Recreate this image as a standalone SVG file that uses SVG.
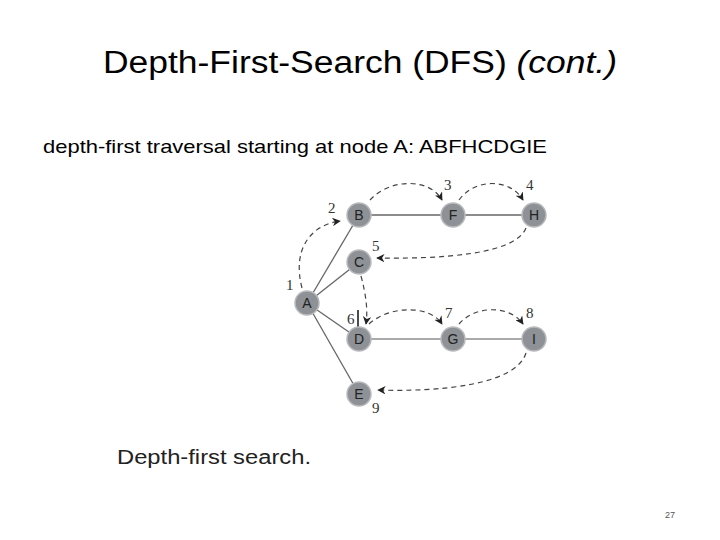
<svg xmlns="http://www.w3.org/2000/svg" width="720" height="540" viewBox="0 0 720 540">
<style>
.n circle{fill:#8e9196;stroke:#b8babd;stroke-width:1.5}
.n text{font-family:"Liberation Sans",sans-serif;font-size:14px;fill:#222;text-anchor:middle}
.num{font-family:"Liberation Serif",serif;font-size:15px;fill:#333}
.e{stroke:#666;stroke-width:1.3;fill:none}
.d{stroke:#444;stroke-width:1.2;fill:none;stroke-dasharray:5,4;marker-end:url(#ar)}
</style>
<defs><marker id="ar" viewBox="0 0 10 10" refX="9" refY="5" markerWidth="7" markerHeight="7" orient="auto"><path d="M0,0L10,5L0,10L3,5z" fill="#222"/></marker></defs>
<rect width="720" height="540" fill="#fff"/>
<text x="103" y="73" font-family="'Liberation Sans',sans-serif" font-size="31" textLength="514" lengthAdjust="spacingAndGlyphs">Depth-First-Search (DFS) <tspan font-style="italic">(cont.)</tspan></text>
<text x="43" y="153" font-family="'Liberation Sans',sans-serif" font-size="19" textLength="504" lengthAdjust="spacingAndGlyphs">depth-first traversal starting at node A:  ABFHCDGIE</text>
<g id="connectors">
<line class="e" x1="307" y1="303" x2="359" y2="215"/>
<line class="e" x1="307" y1="303" x2="359" y2="262"/>
<line class="e" x1="307" y1="303" x2="359" y2="339"/>
<line class="e" x1="307" y1="303" x2="359" y2="394"/>
<line class="e" x1="359" y1="215" x2="534" y2="215" stroke-width="2"/>
<line x1="359" y1="339" x2="534" y2="339" stroke="#aaa" stroke-width="2"/>
<path class="d" d="M302,288 C292,250 310,225 340,221"/>
<path class="d" d="M370,200 C390,178 430,178 442,200"/>
<path class="d" d="M459,200 C475,178 510,178 523,200"/>
<path class="d" d="M526,228 C515,255 440,259 377,258"/>
<path class="d" d="M361,276 C366,295 368,310 366,324"/>
<path class="d" d="M369,324 C390,305 430,305 442,324"/>
<path class="d" d="M459,324 C475,305 510,305 523,324"/>
<path class="d" d="M526,353 C516,385 440,392 378,390"/>
<line x1="358" y1="310" x2="358" y2="328" stroke="#111" stroke-width="1.5"/>
</g>
<g id="A" class="n"><circle cx="307" cy="303" r="12"/><text x="307" y="308">A</text></g>
<g id="B" class="n"><circle cx="359" cy="215" r="12"/><text x="359" y="220">B</text></g>
<g id="F" class="n"><circle cx="453" cy="215" r="12"/><text x="453" y="220">F</text></g>
<g id="H" class="n"><circle cx="534" cy="215" r="12"/><text x="534" y="220">H</text></g>
<g id="C" class="n"><circle cx="359" cy="262" r="12"/><text x="359" y="267">C</text></g>
<g id="D" class="n"><circle cx="359" cy="339" r="12"/><text x="359" y="344">D</text></g>
<g id="G" class="n"><circle cx="453" cy="339" r="12"/><text x="453" y="344">G</text></g>
<g id="I" class="n"><circle cx="534" cy="339" r="12"/><text x="534" y="344">I</text></g>
<g id="E" class="n"><circle cx="359" cy="394" r="12"/><text x="359" y="399">E</text></g>
<g id="labels">
<text class="num" x="286" y="290">1</text>
<text class="num" x="328" y="213">2</text>
<text class="num" x="444" y="190">3</text>
<text class="num" x="526" y="190">4</text>
<text class="num" x="372" y="251">5</text>
<text class="num" x="347" y="324">6</text>
<text class="num" x="445" y="318">7</text>
<text class="num" x="526" y="318">8</text>
<text class="num" x="372" y="413">9</text>
</g>
<text x="117" y="464" font-family="'Liberation Sans',sans-serif" font-size="20" fill="#222" textLength="194" lengthAdjust="spacingAndGlyphs">Depth-first search.</text>
<text x="670" y="518" font-family="'Liberation Sans',sans-serif" font-size="9" fill="#555" text-anchor="middle">27</text>
</svg>
